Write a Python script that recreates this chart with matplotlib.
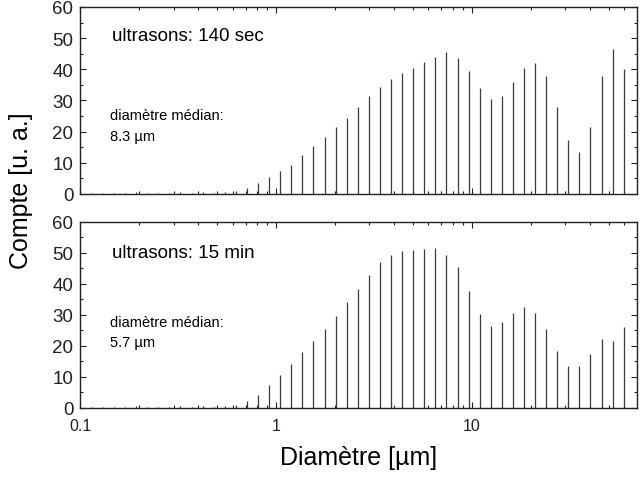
import numpy as np
import matplotlib
matplotlib.use("Agg")
import matplotlib.pyplot as plt
from matplotlib.ticker import LogLocator, FixedLocator, NullFormatter, MultipleLocator

plt.rcParams['font.family'] = ['Liberation Sans', 'DejaVu Sans']

# bin diameters in micrometres
diam = [0.1145, 0.130, 0.149, 0.169, 0.193, 0.220, 0.250, 0.285, 0.325, 0.370,
        0.422, 0.481, 0.548, 0.624, 0.711, 0.810, 0.922, 1.051, 1.197, 1.364,
        1.554, 1.77, 2.02, 2.30, 2.62, 2.98, 3.40, 3.87, 4.41, 5.02,
        5.72, 6.52, 7.43, 8.46, 9.64, 10.98, 12.5, 14.3, 16.2, 18.5,
        21.1, 24.0, 27.4, 31.2, 35.5, 40.4, 46.1, 52.5, 59.8]

# counts, ultrasound 140 s
count_140s = [0.4, 0.4, 0.4, 0.4, 0.5, 0.4, 0.4, 0.4, 0.5, 0.4,
              0.5, 0.4, 0.6, 1.0, 1.8, 3.4, 5.4, 7.3, 9.4, 12.4,
              15.4, 18.4, 21.5, 24.5, 27.9, 31.4, 34.3, 36.9, 38.9, 40.4,
              42.4, 43.9, 45.5, 43.5, 39.4, 33.9, 30.4, 31.4, 35.9, 40.4,
              41.9, 37.9, 27.9, 17.3, 13.4, 21.5, 37.9, 46.4, 40.0]

# counts, ultrasound 15 min
count_15min = [0.4, 0.4, 0.4, 0.4, 0.5, 0.4, 0.4, 0.4, 0.5, 0.4,
               0.5, 0.4, 0.6, 1.0, 2.3, 4.3, 7.5, 10.5, 14.1, 18.1,
               21.5, 25.6, 29.8, 34.2, 38.3, 42.9, 47.0, 49.5, 50.5, 51.0,
               51.4, 51.5, 49.5, 45.5, 37.8, 30.2, 26.6, 27.7, 30.7, 32.7,
               30.7, 25.6, 18.5, 13.5, 13.5, 17.5, 22.2, 21.6, 26.2]

titles = ["ultrasons: 140 sec", "ultrasons: 15 min"]
medians = ["8.3 \u00b5m", "5.7 \u00b5m"]

fig = plt.figure(figsize=(6.4, 4.81), dpi=100)
ax_top = fig.add_axes([0.1255, 0.5946, 0.8694, 0.3888])
ax_bot = fig.add_axes([0.1255, 0.1497, 0.8694, 0.3867])

title_y = [0.85, 0.837]
med1_y = [0.4225, 0.464]
med2_y = [0.312, 0.353]

for i, (ax, counts) in enumerate(zip([ax_top, ax_bot], [count_140s, count_15min])):
    ax.vlines(diam, 0, counts, color='#3a3a3a', lw=0.9)
    ax.set_xscale('log')
    ax.set_xlim(0.1, 69.7)
    ax.set_ylim(0, 60)
    ax.yaxis.set_major_locator(MultipleLocator(10))
    ax.yaxis.set_minor_locator(MultipleLocator(5))
    ax.xaxis.set_major_locator(FixedLocator([0.1, 1, 10]))
    ax.xaxis.set_minor_locator(LogLocator(base=10, subs=np.arange(2, 10)))
    ax.xaxis.set_minor_formatter(NullFormatter())
    ax.tick_params(which='both', direction='in', top=True, right=True,
                   labelsize=13.5, colors='#222222', width=0.8)
    ax.tick_params(which='major', length=4.5, pad=5)
    ax.tick_params(which='minor', length=2.5)
    ax.tick_params(axis='x', labelsize=11.5, pad=7)
    for sp in ax.spines.values():
        sp.set_linewidth(1.0)
        sp.set_color('#222222')

    ax.text(0.0564, title_y[i], titles[i], transform=ax.transAxes,
            fontsize=13.5, va='center', ha='left')
    ax.text(0.0534, med1_y[i], "diamètre médian:", transform=ax.transAxes,
            fontsize=10.5, va='center', ha='left')
    ax.text(0.0534, med2_y[i], medians[i], transform=ax.transAxes,
            fontsize=10.5, va='center', ha='left')

ax_top.set_xticklabels([])
ax_bot.set_xticklabels(["0.1", "1", "10"])
ax_bot.set_xlabel("Diamètre [\u00b5m]", fontsize=18, labelpad=9)

fig.text(0.033, 1 - 191 / 481, "Compte [u. a.]", rotation=90, fontsize=18,
         ha='center', va='center')

fig.savefig("out.png", dpi=100)
